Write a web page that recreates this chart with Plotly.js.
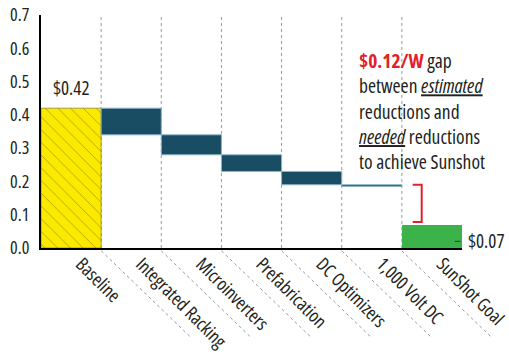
<!DOCTYPE html>
<html>
<head>
<meta charset="utf-8">
<script src="https://cdn.plot.ly/plotly-3.0.1.min.js"></script>
<style>html,body{margin:0;padding:0;background:#fff}#chart{width:509px;height:360px}
#chart text{font-stretch:condensed !important}</style>
</head>
<body>
<div id="chart"></div>
<script>
const categories = ['Baseline','Integrated Racking','Microinverters','Prefabrication','DC Optimizers','1,000 Volt DC','SunShot Goal'];
const baselineValue = 0.42;
const reductionSteps = [0.08, 0.06, 0.05, 0.04, 0.005];
const goalValue = 0.07;
const yTickVals = [0, 0.1, 0.2, 0.3, 0.4, 0.5, 0.6, 0.7];
const baselineLabel = '$0.42';
const goalLabel = '$0.07';
const gapLabel = '$0.12/W';

const FONT = '"Open Sans", sans-serif';
const TXT = '#231f20';

// running waterfall
const redCats = categories.slice(1, 1 + reductionSteps.length);
const redBase = [], redLen = [];
let level = baselineValue;
reductionSteps.forEach(s => { redBase.push(level - s); redLen.push(s); level -= s; });
const lastLevel = redBase[redBase.length - 1] + redLen[redLen.length - 1];

const nCat = categories.length;
const traces = [
  {type:'bar', x:[categories[0]], y:[baselineValue], base:[0],
   marker:{color:'#fbe900', line:{color:'#6b6420', width:0.6},
           pattern:{shape:'\\', fillmode:'overlay', bgcolor:'#fbe900', fgcolor:'#5a5410', fgopacity:0.45, size:9, solidity:0.1}},
   hoverinfo:'skip'},
  {type:'bar', x:redCats, y:redLen, base:redBase,
   marker:{color:'#184d63', line:{color:'#8db4c6', width:1}}, hoverinfo:'skip'},
  {type:'bar', x:[categories[nCat-1]], y:[goalValue], base:[0],
   marker:{color:'#3bb34a', line:{width:0}}, hoverinfo:'skip'}
];

const shapes = [];
for (let i = 0; i < nCat - 1; i++) {
  shapes.push({type:'line', xref:'x', yref:'paper', x0:i+0.5, x1:i+0.5, y0:0, y1:1,
               line:{color:'#9a9a9a', width:1, dash:'dot'}, layer:'below'});
  const px = (i + 1) / nCat;
  shapes.push({type:'line', xref:'paper', yref:'paper', x0:px, y0:-0.012, x1:px + 90/421, y1:-0.385,
               line:{color:'#9a9a9a', width:1, dash:'dot'}, layer:'above'});
}
const gi = nCat - 1;
const bx0 = gi - 0.32, bx1 = gi - 0.17, byTop = lastLevel, byBot = goalValue + 0.008;
shapes.push({type:'path', xref:'x', yref:'y',
  path:`M ${bx0} ${byTop} L ${bx1} ${byTop} L ${bx1} ${byBot} L ${bx0} ${byBot}`,
  line:{color:'#e3202b', width:2}});

const annotations = [
  {xref:'x', yref:'y', x:0, y:baselineValue, text:baselineLabel, showarrow:false,
   yanchor:'bottom', yshift:5, font:{family:FONT, size:19, color:TXT}},
  {xref:'x', yref:'y', x:gi + 0.38, y:0.02, text:goalLabel, showarrow:true, arrowhead:0,
   arrowwidth:1, arrowcolor:'#333', ax:31, ay:0, standoff:0,
   font:{family:FONT, size:19, color:TXT}},
  {xref:'paper', yref:'paper', x:0.75, y:0.872, xanchor:'left', yanchor:'top', align:'left',
   showarrow:false,
   text:`<b><span style="color:#e3202b">${gapLabel}</span></b> gap<br>between <i><u>estimated</u></i><br>reductions and<br><i><u>needed</u></i> reductions<br>to achieve Sunshot`,
   font:{family:FONT, size:19.5, color:TXT}}
];

const layout = {
  width:509, height:360,
  margin:{l:41, r:47, t:15, b:112, pad:0},
  paper_bgcolor:'#fff', plot_bgcolor:'#fff',
  showlegend:false, barmode:'overlay', bargap:0,
  font:{family:FONT, color:TXT},
  xaxis:{type:'category', categoryorder:'array', categoryarray:categories, range:[-0.5, nCat-0.5],
         showgrid:false, zeroline:false, ticks:'', tickangle:45, ticklabelshift:10, ticklabelstandoff:-4,
         showline:true, linecolor:'#000', linewidth:2,
         tickfont:{family:FONT, size:18.5, color:TXT}, fixedrange:true},
  yaxis:{range:[0, 0.7], tickvals:yTickVals, tickformat:'.1f', showgrid:false, zeroline:false,
         showline:true, linecolor:'#000', linewidth:2, ticks:'', ticklabelstandoff:6,
         tickfont:{family:FONT, size:18, color:TXT}, fixedrange:true},
  shapes:shapes, annotations:annotations
};

Plotly.newPlot('chart', traces, layout, {displayModeBar:false, staticPlot:true});
</script>
</body>
</html>
